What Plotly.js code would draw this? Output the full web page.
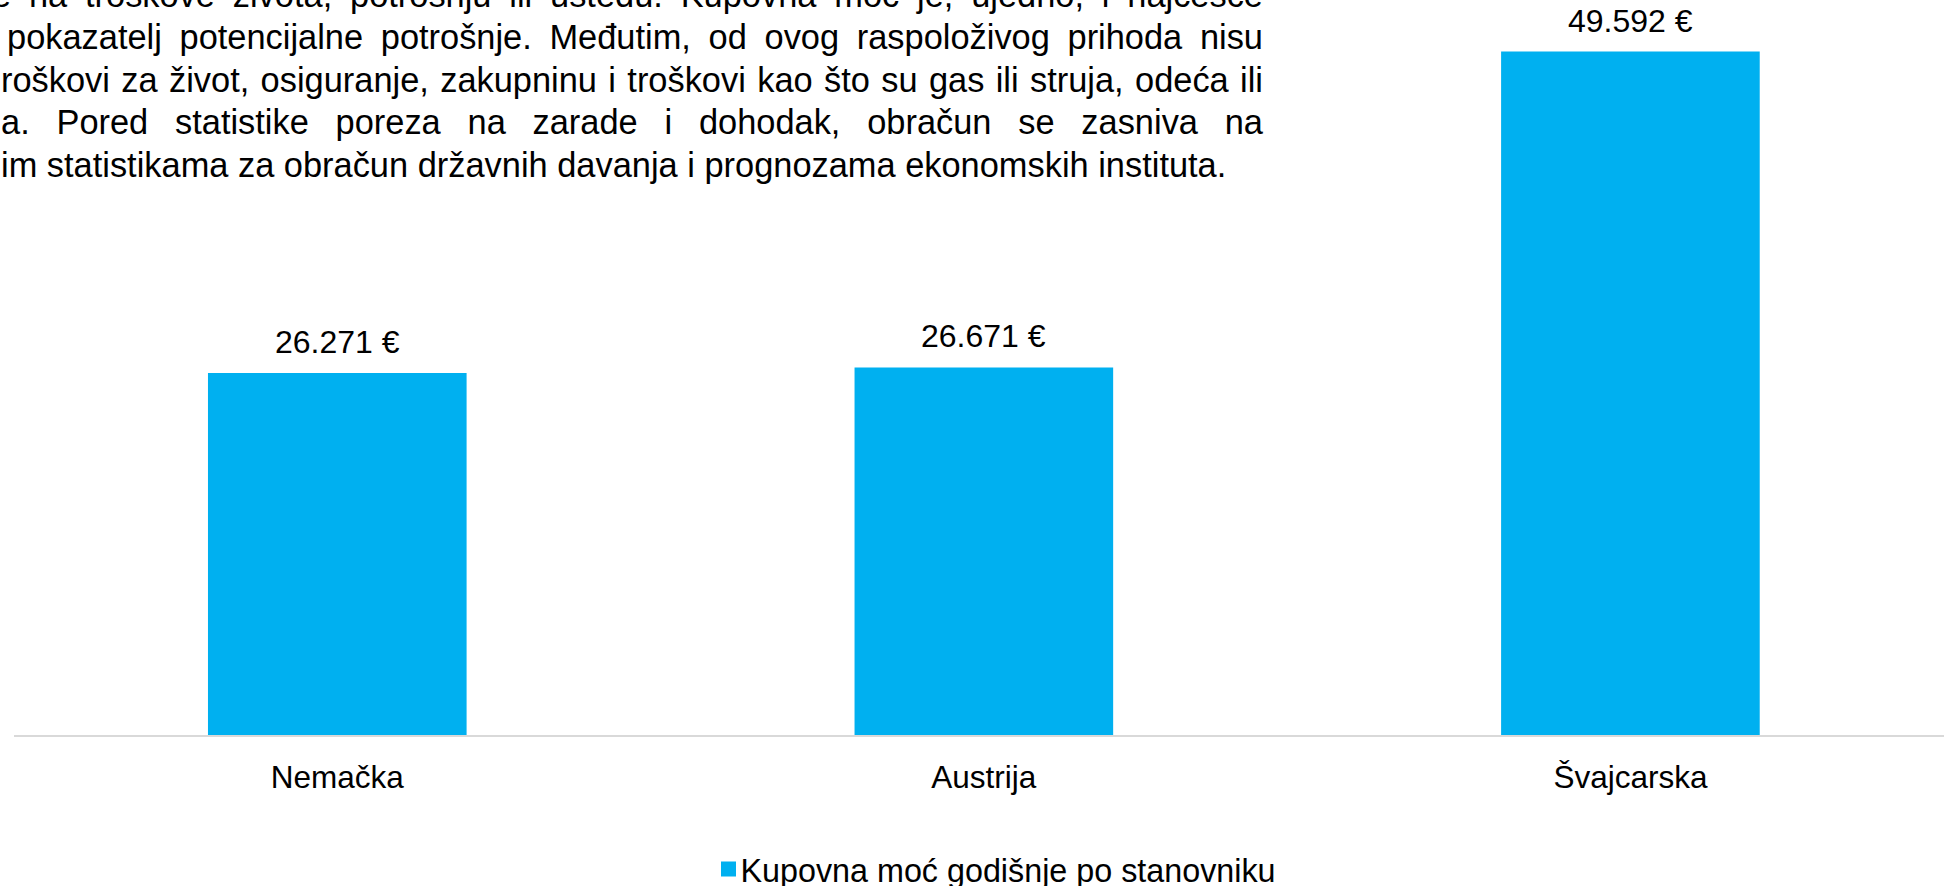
<!DOCTYPE html>
<html><head><meta charset="utf-8">
<script src="https://cdn.plot.ly/plotly-3.0.1.min.js"></script>
<style>html,body{margin:0;padding:0;background:#fff;overflow:hidden}#chart{width:1944px;height:886px}</style>
</head><body><div id="chart"></div>
<script>
// ---- data ----
const categories = ['Nemačka', 'Austrija', 'Švajcarska'];
const purchasingPower = [26271, 26671, 49592];
const seriesName = 'Kupovna moć godišnje po stanovniku';
const paragraphLines = [
  'e na troškove života, potrošnju ili uštedu. Kupovna moć je, ujedno, i najčešće',
  'pokazatelj potencijalne potrošnje. Međutim, od ovog raspoloživog prihoda nisu',
  'roškovi za život, osiguranje, zakupninu i troškovi kao što su gas ili struja, odeća ili',
  'a. Pored statistike poreza na zarade i dohodak, obračun se zasniva na',
  'im statistikama za obračun državnih davanja i prognozama ekonomskih instituta.'
];

// ---- layout settings ----
const W = 1944, H = 886;
const M = {l: 14, r: 0, t: 0, b: 151};
const plotW = W - M.l - M.r, plotH = H - M.t - M.b;
const FONT = 'Arial, "Liberation Sans", sans-serif';
const tickFontSize = 31.5, labelFontSize = 32, legendFontSize = 32.3, paraFontSize = 34.4;
const barColor = '#00B0F0';
// paragraph line geometry (px): left start, vertical centre, justified?
const paraLeft = [-10, 5, -1, -1, -1];
const paraCenter = [-5, 37, 80, 122.5, 165];
const paraJustify = [true, true, true, true, false];
const paraRight = 1261;

const px2paperX = px => (px - M.l) / plotW;
const px2paperY = py => (H - M.b - py) / plotH;
const fmt = v => String(v).replace(/\B(?=(\d{3})+(?!\d))/g, '.') + ' €';

const annotations = [];
paragraphLines.forEach((line, i) => {
  annotations.push({
    text: line, xref: 'paper', yref: 'paper',
    x: px2paperX(paraLeft[i]), y: px2paperY(paraCenter[i]),
    xanchor: 'left', yanchor: 'middle', align: 'left', showarrow: false,
    font: {family: FONT, size: paraFontSize, color: '#000000'}
  });
});
categories.forEach((c, i) => {
  annotations.push({
    text: fmt(purchasingPower[i]), xref: 'x', yref: 'y',
    x: c, y: purchasingPower[i], xanchor: 'center', yanchor: 'bottom',
    yshift: 11, showarrow: false,
    font: {family: FONT, size: labelFontSize, color: '#000000'}
  });
});

const data = [{
  type: 'bar', x: categories, y: purchasingPower, name: seriesName,
  marker: {color: barColor}, width: 0.4, showlegend: true, hoverinfo: 'none'
}];

const layout = {
  width: W, height: H,
  margin: {l: M.l, r: M.r, t: M.t, b: M.b, pad: 0, autoexpand: false},
  paper_bgcolor: '#ffffff', plot_bgcolor: '#ffffff',
  font: {family: FONT, size: tickFontSize, color: '#000000'},
  xaxis: {
    type: 'category', range: [-0.5, 2.485], showline: true, linecolor: '#D9D9D9',
    linewidth: 2, ticks: '', showgrid: false, zeroline: false,
    tickfont: {family: FONT, size: tickFontSize, color: '#000000'},
    ticklabelstandoff: 13, fixedrange: true
  },
  yaxis: {
    range: [0, 53330], visible: false, showgrid: false, zeroline: false, fixedrange: true
  },
  showlegend: true,
  legend: {
    orientation: 'h', x: px2paperX(991), xanchor: 'center',
    y: px2paperY(869), yanchor: 'middle',
    font: {family: FONT, size: legendFontSize, color: '#000000'},
    bgcolor: 'rgba(0,0,0,0)'
  },
  annotations: annotations
};

Plotly.newPlot('chart', data, layout, {staticPlot: true, displayModeBar: false}).then(gd => {
  gd.querySelectorAll('g.annotation').forEach(g => {
    const idx = +g.getAttribute('data-index');
    if (!(idx < paragraphLines.length) || !paraJustify[idx]) return;
    const t = g.querySelector('text.annotation-text');
    if (!t) return;
    const w = t.getComputedTextLength();
    const n = (paragraphLines[idx].match(/ /g) || []).length;
    const ws = (paraRight - paraLeft[idx] - w) / n;
    t.style.wordSpacing = ws + 'px';
  });
  gd.querySelectorAll('.legendpoints path').forEach(p => {
    const tr = p.getAttribute('transform') || '';
    p.setAttribute('transform', 'translate(8,0) ' + tr + ' scale(1.25)');
  });
});
</script>
</body></html>
